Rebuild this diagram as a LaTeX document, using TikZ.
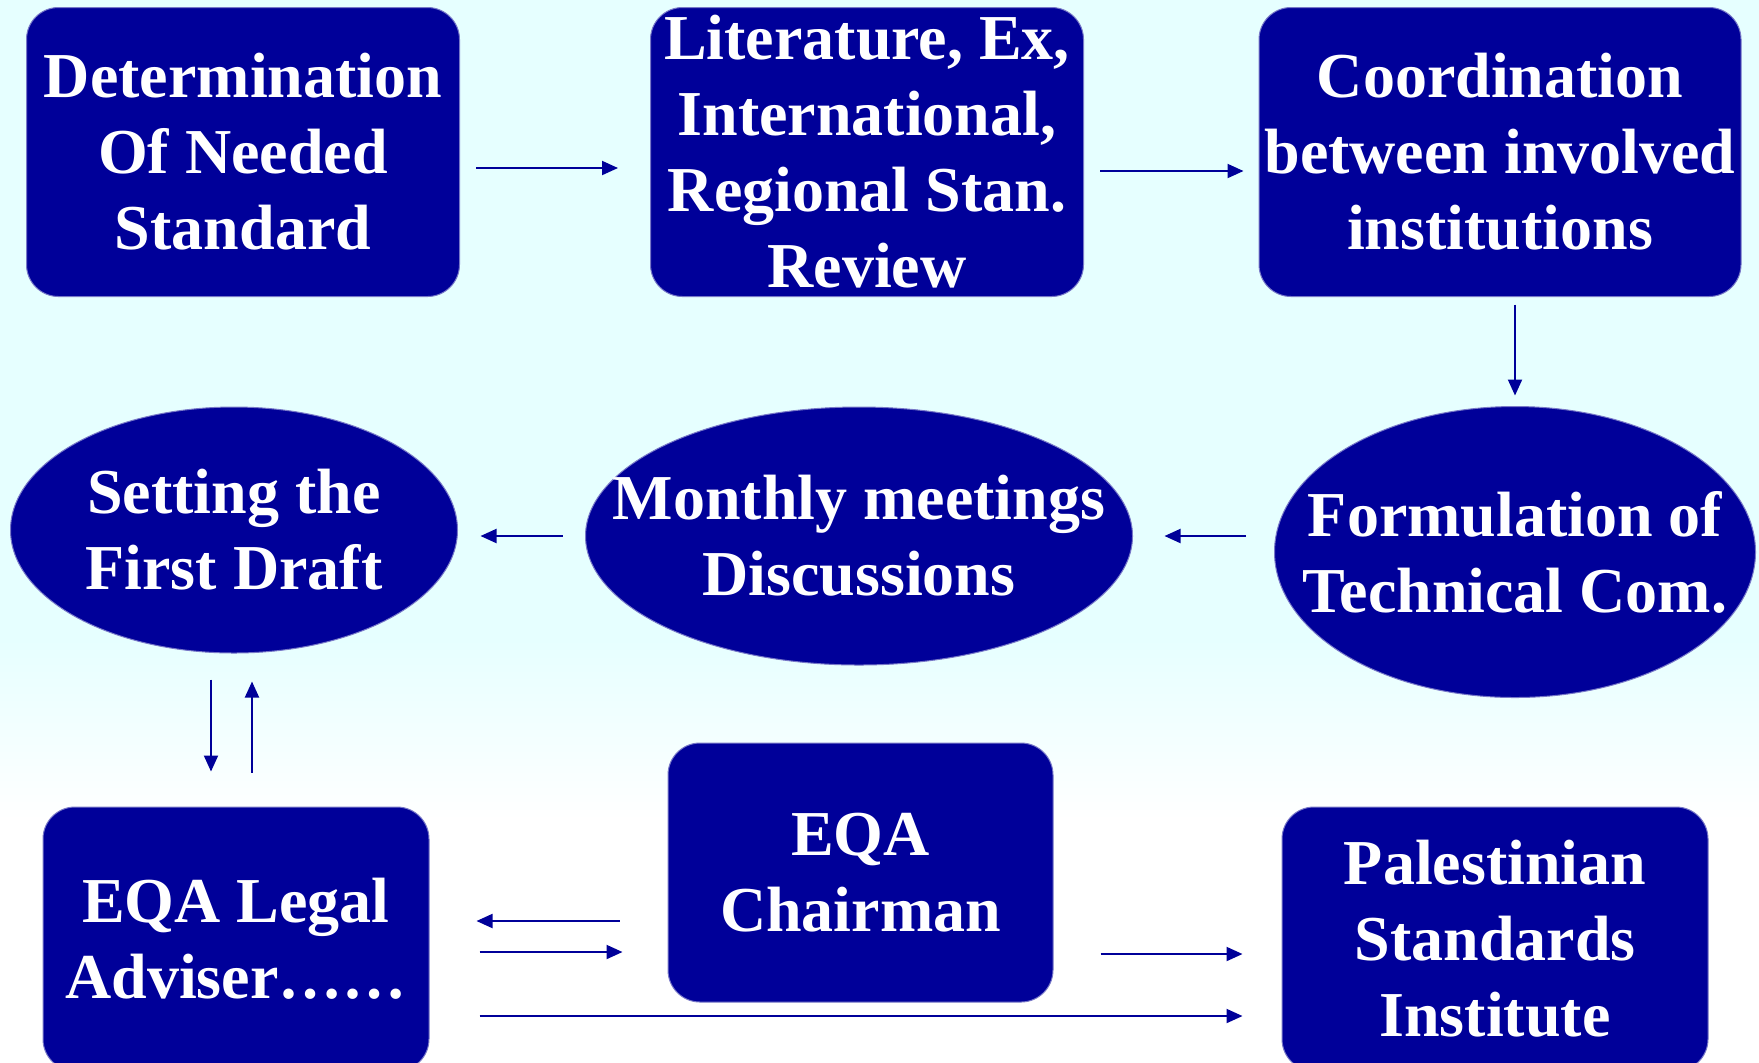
\documentclass[tikz,border=0pt]{standalone}
\usepackage{fontspec}
\setmainfont{Liberation Serif}
\usetikzlibrary{shapes.geometric,arrows.meta}
\definecolor{boxblue}{RGB}{0,0,153}
\definecolor{edgeblue}{RGB}{120,120,200}
\definecolor{skycyan}{RGB}{230,255,255}
\tikzset{
	boxtext/.style={text=white, font=\fontsize{32}{38}\selectfont\bfseries, align=center, inner sep=0pt},
	stepbox/.style={boxtext, rectangle, rounded corners=16pt, fill=boxblue, draw=edgeblue, line width=0.5pt},
	stepell/.style={ellipse, fill=boxblue, draw=edgeblue, line width=0.5pt, inner sep=0pt},
	arr/.style={draw=boxblue, line width=1pt, -{Triangle[length=8pt,width=7pt]}},
}
\begin{document}
	\begin{tikzpicture}[x=0.5pt, y=-0.5pt]
		\useasboundingbox (0, 0) rectangle (1759, 1062);
		\clip (0, 0) rectangle (1759, 1062);
		\fill[skycyan] (0, 0) rectangle (1759, 640);
		\shade[top color=skycyan, bottom color=white] (0, 639) rectangle (1759, 820);
		\fill[white] (0, 819) rectangle (1759, 1062);
		% first row
		\node[stepbox, minimum width=216.5pt, minimum height=144.5pt] (determ) at (243, 152) {Determination\\Of Needed\\Standard};
		\node[stepbox, minimum width=216.5pt, minimum height=144.5pt] (review) at (867, 152) {Literature, Ex,\\International,\\Regional Stan.\\Review};
		\node[stepbox, minimum width=241pt, minimum height=144.5pt] (coord) at (1500, 152) {Coordination\\between involved\\institutions};
		% second row
		\node[stepell, minimum width=223.5pt, minimum height=123pt, label={[boxtext]center:Setting the\\First Draft}] (draft) at (234, 530) {};
		\node[stepell, minimum width=273.5pt, minimum height=129pt, label={[boxtext]center:Monthly meetings\\Discussions}] (meet) at (859, 536) {};
		\node[stepell, minimum width=240.5pt, minimum height=145.5pt, label={[boxtext]center:Formulation of\\Technical Com.}] (techcom) at (1515, 552) {};
		% third row
		\node[stepbox, minimum width=193pt, minimum height=132pt] (legal) at (236, 939) {EQA Legal\\Adviser\ldots\ldots};
		\node[stepbox, minimum width=192.5pt, minimum height=129.5pt] (chair) at (860.5, 872.5) {EQA\\Chairman};
		\node[stepbox, minimum width=213pt, minimum height=132pt] (psi) at (1495, 939) {Palestinian\\Standards\\Institute};

		\draw[arr, shorten <=8pt, shorten >=16pt] ([yshift=-8pt]determ.east) -- ([yshift=-8pt]review.west);
		\draw[arr, shorten <=8pt, shorten >=7.5pt] ([yshift=-9.5pt]review.east) -- ([yshift=-9.5pt]coord.west);
		\draw[arr, shorten <=3.75pt, shorten >=5.25pt] (coord.south -| techcom.north) -- (techcom.north);
		\draw[arr, shorten <=14pt, shorten >=15.75pt] (techcom.west |- meet.east) -- (meet.east);
		\draw[arr, shorten <=11.25pt, shorten >=11.25pt] (meet.west) -- (draft.east |- meet.west);
		\draw[arr, shorten <=13pt, shorten >=17.5pt] ([xshift=-11.5pt]draft.south) -- ([xshift=-12.5pt]legal.north);
		\draw[arr, shorten <=17pt, shorten >=14pt] ([xshift=8pt]legal.north) -- ([xshift=9pt]draft.south);
		\draw[arr, shorten <=24pt, shorten >=23.5pt] ([yshift=-24.25pt]chair.west) -- ([yshift=9pt]legal.east);
		\draw[arr, shorten <=25pt, shorten >=22.5pt] ([yshift=-6.5pt]legal.east) -- ([yshift=-39.75pt]chair.west);
		\draw[arr, shorten <=23.5pt, shorten >=19.5pt] ([yshift=-40.75pt]chair.east) -- ([yshift=-7.5pt]psi.west);
		\draw[arr, shorten <=25pt, shorten >=19.5pt] ([yshift=-38.5pt]legal.east) -- ([yshift=-38.5pt]psi.west);
	\end{tikzpicture}
\end{document}
